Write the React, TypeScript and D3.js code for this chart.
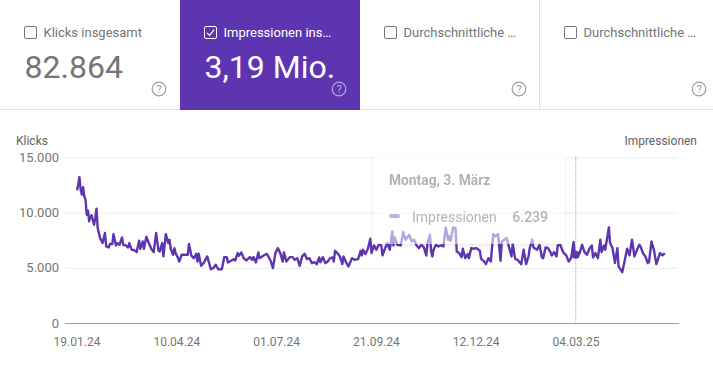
import React from "react";
import * as d3 from "d3";

const dayOffsets = [0,1,2,3,4,5,6,7,8,9,10,11,12,14,15,16,17,19,21,23,24,26,27,29,30,32,33,35,37,38,40,42,43,45,46,48,49,51,52,54,55,57,59,61,63,65,67,68,70,71,73,75,76,77,79,80,81,83,84,86,89,91,92,
94,96,98,99,100,102,104,107,110,112,114,116,119,121,123,124,127,129,130,132,133,135,137,139,142,144,145,147,149,150,153,156,159,161,163,165,167,169,170,172,175,177,179,181,183,185,187,189,191,
193,195,197,199,200,202,204,206,208,210,211,212,214,216,218,219,221,223,226,228,231,233,234,235,237,239,241,242,244,246,248,250,251,253,255,257,259,260,261,263,266,268,270,273,275,277,279,281,283,285,287,288,290,
291,292,293,295,297,299,301,303,305,306,307,309,311,312,314,316,317,319,321,322,324,326,328,331,332,334,336,338,340,342,344,346,348,349,351,353,355,357,358,360,362,365,367,369,371,372,374,375,378,380,382,383,385,387,
389,390,392,394,395,397,399,400,402,404,406,408,409,411,413,415,417,419,421,423,424,426,428,430,431,433,434,437,438,440,442,444,445,448,449,452,454,456,458,459,462,463,465,467,469,470,472,474,476,479,481,483];

const impressions = [12076,12590,13260,12140,11680,12350,11530,11230,9860,10230,9260,9710,9800,8950,9560,10410,8650,7740,7290,8200,6980,6890,7200,7200,8100,7080,7290,7140,7800,7140,7080,6890,7290,6680,6680,6590,6470,7500,6770,7440,6770,7860,7290,6770,6470,8200,6590,6530,7290,6080,8100,7290,7590,6770,6230,6830,6380,5930,5620,6230,6230,6230,7200,
6140,5920,6320,5620,6320,5230,5470,6080,4920,5020,5320,4920,4920,6020,6020,5530,5710,5830,5710,6380,6140,6440,5920,5710,6020,5770,6020,5530,6440,5920,6140,6320,5710,5020,6380,6830,6380,5620,6440,5620,6020,6020,5770,5920,5230,6080,6320,5830,5920,
5470,5560,5380,5985,5560,6015,5470,5620,5925,5985,5620,6590,6380,6080,5380,6080,5560,5170,5925,5775,5835,6590,6170,6680,6290,6775,7680,6380,7075,6680,7140,7075,6170,6775,7290,6680,8350,7075,7800,7140,7075,8290,7590,8045,7440,7590,7075,6835,7140,6895,6170,7290,8045,
6530,6080,6680,7140,6985,7075,6985,8710,7590,7895,7500,8710,8650,6530,6380,6015,6775,5925,6290,5925,6835,6775,6835,6590,5865,5680,5380,5925,5620,8105,7895,8105,5680,7440,7590,7745,6895,6080,7200,5865,5775,5380,6680,5380,6080,6835,7590,6895,6680,7140,5985,5925,6895,6835,
6470,6170,6470,6080,7075,7140,6590,6380,6170,5620,5925,7380,6239,6170,6380,7140,6470,6230,6775,7075,5985,6380,5925,7590,6470,7075,6680,8710,7290,6835,5470,6835,5170,4650,5170,6775,6170,7590,6080,6380,7140,6985,6380,6080,5470,5560,7440,6680,5380,6380,6170,6380];

const startDate = new Date(2024, 0, 19);
const yTicks = [0, 5000, 10000, 15000];
const yTickLabels = ["0", "5.000", "10.000", "15.000"];
const xTickOffsets = [0, 82, 164, 246, 328, 410];
const xTickLabels = ["19.01.24", "10.04.24", "01.07.24", "21.09.24", "12.12.24", "04.03.25"];
const hoverOffset = 409;
const hoverValue = 6239;
const cards = [
  { label: "Klicks insgesamt", value: "82.864", active: false },
  { label: "Impressionen ins…", value: "3,19 Mio.", active: true },
  { label: "Durchschnittliche …", value: "", active: false },
  { label: "Durchschnittliche …", value: "", active: false },
];

const PURPLE = "#5e35b1";
const FONT = "Roboto, sans-serif";
const dateAt = (d: number) => d3.timeDay.offset(startDate, d);

export default function App() {
  const x = d3.scaleTime().domain([dateAt(0), dateAt(410)]).range([77, 576]);
  const y = d3.scaleLinear().domain([0, 15000]).range([323.5, 158]);
  const line = d3
    .line<number>()
    .x((d) => x(dateAt(d)))
    .y((_, i) => y(impressions[i]));
  const hx = x(dateAt(hoverOffset)) + 1;

  return (
    <svg
      width={713}
      height={377}
      style={{ position: "absolute", left: 0, top: 0, fontFamily: FONT, background: "#fff" }}
    >
      <defs>
        <filter id="tipShadow" x="-10%" y="-10%" width="120%" height="125%">
          <feGaussianBlur in="SourceAlpha" stdDeviation="2" result="b" />
          <feOffset in="b" dy="1" result="o" />
          <feComposite in="o" in2="SourceAlpha" operator="out" result="outer" />
          <feComponentTransfer in="outer">
            <feFuncA type="linear" slope="0.1" />
          </feComponentTransfer>
        </filter>
      </defs>

      {/* header cards */}
      <rect x={180} y={0} width={180} height={110} fill={PURPLE} />
      <line x1={0} x2={180} y1={109.5} y2={109.5} stroke="#e0e0e0" />
      <line x1={360} x2={713} y1={109.5} y2={109.5} stroke="#e0e0e0" />
      <line x1={539.5} x2={539.5} y1={0} y2={109} stroke="#e0e0e0" />
      {cards.map((c, i) => {
        const left = i * 180;
        const fg = c.active ? "#fff" : "#757575";
        return (
          <g key={i}>
            <rect x={left + 24.5} y={26.5} width={12} height={12} rx={1.5} fill="none" stroke={c.active ? "#fff" : "#757575"} strokeWidth={1} />
            {c.active && (
              <path d={`M${left + 27} 32.8 L${left + 29.6} 35.4 L${left + 34.2} 29.6`} fill="none" stroke="#fff" strokeWidth={1.2} />
            )}
            <text x={left + 43.5} y={37} fontSize={13} fill={c.active ? "#fff" : "#757575"}>{c.label}</text>
            {c.value && (
              <text x={left + 24.5} y={78} fontSize={32} fill={fg}>{c.value}</text>
            )}
            <circle cx={left + 159} cy={89} r={6.8} fill="none" stroke={c.active ? "rgba(255,255,255,0.55)" : "#9e9e9e"} strokeWidth={1.2} />
            <text x={left + 159} y={93} fontSize={11} textAnchor="middle" fill={c.active ? "rgba(255,255,255,0.6)" : "#9e9e9e"}>?</text>
          </g>
        );
      })}

      {/* axis titles */}
      <text x={16} y={145} fontSize={12} fill="#5f6368">Klicks</text>
      <text x={697} y={145} fontSize={12} textAnchor="end" fill="#5f6368">Impressionen</text>

      {/* grid */}
      {yTicks.map((t, i) => (
        <g key={t}>
          <line
            x1={65}
            x2={i === 0 ? 679 : 677}
            y1={y(t)}
            y2={y(t)}
            stroke={i === 0 ? "#9e9e9e" : "#ececec"}
            strokeWidth={1}
          />
          <text x={59} y={y(t) + 4} fontSize={13} textAnchor="end" fill="#757575">
            {yTickLabels[i]}
          </text>
        </g>
      ))}
      {xTickOffsets.map((d, i) => (
        <text key={d} x={x(dateAt(d))} y={346} fontSize={12} textAnchor="middle" fill="#757575">
          {xTickLabels[i]}
        </text>
      ))}

      {/* hover rule */}
      <line x1={hx} x2={hx} y1={157} y2={323} stroke="#9e9e9e" strokeWidth={1} strokeDasharray="1 1" />

      {/* series */}
      <path d={line(dayOffsets) || ""} fill="none" stroke={PURPLE} strokeWidth={2.4} strokeLinejoin="round" />
      <circle cx={hx} cy={y(hoverValue)} r={4} fill={PURPLE} />

      {/* tooltip */}
      <rect x={373} y={156} width={192} height={88} rx={2} fill="#000" filter="url(#tipShadow)" />
      <rect x={373} y={156} width={192} height={88} rx={2} fill="#fff" fillOpacity={0.55} />
      <g opacity={0.48}>
        <text x={389} y={185} fontSize={13.8} fontWeight={700} fill="#616161">Montag, 3. März</text>
        <rect x={389} y={214} width={11} height={4} rx={2} fill={PURPLE} fillOpacity={0.8} />
        <text x={412} y={222} fontSize={14} fill="#616161">Impressionen</text>
        <text x={548} y={222} fontSize={14} fontWeight={500} textAnchor="end" fill="#616161">6.239</text>
      </g>
    </svg>
  );
}
